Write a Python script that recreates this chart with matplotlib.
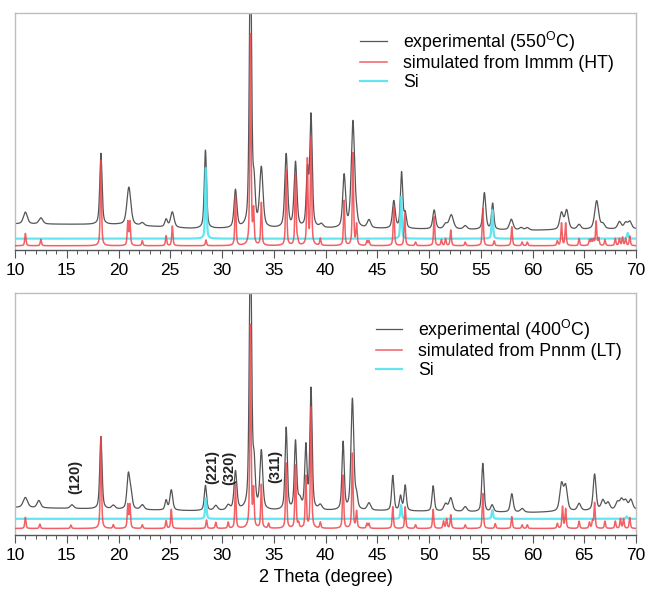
import numpy as np
import matplotlib
matplotlib.use("Agg")
import matplotlib.pyplot as plt

plt.rcParams['font.family'] = ['Liberation Sans', 'DejaVu Sans']
plt.rcParams['mathtext.fontset'] = 'custom'
plt.rcParams['mathtext.rm'] = 'Liberation Sans'

# ---- data (2theta in degrees, heights in arbitrary units) ----
# top panel: 550 C, Immm (HT)
exp_ht_pos = [11.0, 12.5, 18.3, 21.0, 22.3, 24.6, 25.2, 28.4, 31.3, 32.75, 33.1, 33.8,
              36.2, 37.1, 38.25, 38.6, 39.6, 41.8, 42.65, 43.0, 44.2, 46.6, 47.35, 47.7,
              50.5, 51.6, 52.15, 53.5, 55.35, 56.15, 57.95, 58.9, 59.5, 62.8, 63.3, 64.5,
              66.2, 66.8, 68.4, 69.0, 69.4]
exp_ht_h = [5.0, 2.6, 30.0, 16.0, 1.2, 3.2, 6.5, 33.0, 16.0, 120.0, 16.0, 25.0,
            31.0, 27.5, 23.0, 47.0, 1.5, 22.0, 45.0, 3.0, 3.4, 11.5, 23.5, 6.0,
            8.0, 2.0, 6.0, 1.5, 15.5, 11.0, 4.5, 1.0, 1.0, 7.0, 8.0, 2.0,
            12.0, 2.0, 3.0, 2.5, 3.0]
exp_ht_w = [0.45, 0.45, 0.26, 0.45, 0.4, 0.3, 0.4, 0.26, 0.32, 0.26, 0.26, 0.38,
            0.32, 0.32, 0.26, 0.28, 0.4, 0.32, 0.38, 0.26, 0.4, 0.32, 0.26, 0.26,
            0.32, 0.4, 0.5, 0.4, 0.32, 0.26, 0.4, 0.4, 0.4, 0.4, 0.4, 0.4,
            0.45, 0.4, 0.4, 0.4, 0.4]
exp_ht_base_x = [10, 20, 27, 45, 60, 70]
exp_ht_base_y = [11.0, 10.7, 9.0, 9.0, 8.3, 8.9]

sim_ht_pos = [11.0, 12.5, 18.3, 20.9, 21.1, 22.3, 24.6, 25.2, 28.45, 31.3, 32.75, 33.05,
              33.8, 36.2, 37.1, 37.3, 38.25, 38.6, 39.5, 41.8, 42.65, 43.0, 44.0, 44.2,
              46.6, 47.65, 48.7, 50.5, 51.2, 51.6, 52.1, 53.5, 55.2, 56.3, 58.0, 59.0,
              59.5, 62.4, 62.8, 63.2, 64.5, 65.5, 65.7, 65.9, 66.15, 66.4, 67.0, 68.0,
              68.4, 68.7, 69.0, 69.4]
sim_ht_h = [5.2, 2.7, 36.0, 10.0, 10.0, 2.1, 4.2, 8.3, 2.4, 20.7, 89.0, 14.0,
            18.0, 32.0, 29.8, 2.0, 36.0, 45.0, 3.0, 19.0, 39.0, 8.7, 2.0, 2.0,
            16.5, 13.8, 1.5, 12.2, 2.5, 3.0, 6.6, 1.5, 15.8, 2.0, 8.0, 1.5,
            1.5, 2.0, 9.5, 9.5, 3.0, 2.5, 2.5, 2.5, 10.2, 3.0, 2.5, 3.0,
            3.0, 3.5, 3.0, 4.0]
sim_ht_base = 1.8

si_ht_pos = [28.44, 47.3, 56.12, 69.2]
si_ht_h = [29.8, 17.7, 12.1, 2.4]
si_ht_base = 4.8

# bottom panel: 400 C, Pnnm (LT)
exp_lt_pos = [11.0, 12.3, 15.5, 18.3, 19.5, 20.95, 21.2, 22.3, 24.6, 25.1, 28.4, 29.4,
              30.6, 31.3, 32.75, 33.1, 33.8, 36.2, 37.1, 37.5, 38.1, 38.6, 39.5, 41.7,
              42.6, 43.0, 44.2, 46.5, 47.25, 47.7, 50.4, 51.6, 52.1, 53.5, 55.2, 56.1,
              58.0, 59.0, 62.8, 63.2, 64.5, 66.0, 66.8, 67.3, 68.2, 68.6, 69.0, 69.5]
exp_lt_h = [4.2, 3.0, 1.5, 30.0, 1.5, 14.0, 6.0, 2.0, 4.0, 8.4, 10.4, 2.0,
            2.0, 16.0, 120.0, 16.5, 24.0, 34.0, 28.0, 4.0, 26.0, 50.0, 2.0, 28.0,
            46.0, 5.0, 3.0, 14.5, 6.0, 10.5, 10.5, 3.0, 5.5, 2.0, 20.0, 2.8,
            7.6, 1.5, 11.0, 10.0, 3.0, 15.0, 4.0, 3.0, 3.0, 4.0, 3.5, 4.0]
exp_lt_w = [0.5, 0.4, 0.4, 0.26, 0.4, 0.32, 0.32, 0.4, 0.26, 0.32, 0.26, 0.4,
            0.4, 0.32, 0.26, 0.26, 0.32, 0.26, 0.26, 0.4, 0.26, 0.26, 0.4, 0.26,
            0.32, 0.26, 0.4, 0.26, 0.26, 0.26, 0.26, 0.4, 0.4, 0.4, 0.26, 0.32,
            0.32, 0.4, 0.4, 0.4, 0.4, 0.32, 0.4, 0.4, 0.4, 0.4, 0.4, 0.4]
exp_lt_base_x = [10, 15, 27, 45, 60, 70]
exp_lt_base_y = [11.4, 11.0, 10.0, 10.0, 9.3, 10.5]

sim_lt_pos = [11.0, 12.4, 15.4, 18.3, 19.5, 20.9, 21.1, 22.3, 24.6, 25.1, 28.5, 29.4,
              30.6, 31.3, 32.75, 33.05, 33.8, 34.5, 36.2, 37.1, 37.4, 38.1, 38.6, 39.5,
              41.7, 42.6, 43.0, 44.0, 44.2, 46.5, 47.7, 48.7, 50.4, 51.4, 51.7, 52.1,
              53.5, 55.2, 56.4, 58.0, 59.0, 59.5, 62.4, 62.9, 63.2, 64.5, 65.5, 65.8,
              66.0, 67.0, 68.0, 68.5, 68.8, 69.4]
sim_lt_h = [4.6, 1.8, 1.4, 37.9, 1.5, 9.7, 9.7, 1.5, 3.2, 7.9, 3.5, 2.5,
            2.5, 18.0, 84.0, 15.0, 18.0, 2.0, 27.0, 26.0, 2.0, 21.4, 50.0, 2.5,
            22.0, 31.0, 6.9, 2.0, 2.0, 9.0, 9.0, 1.5, 7.9, 3.0, 4.0, 5.6,
            1.5, 14.5, 2.0, 4.9, 1.5, 1.5, 2.0, 9.0, 8.0, 3.0, 2.5, 3.0,
            10.6, 3.0, 3.0, 4.0, 4.0, 4.5]
sim_lt_base = 2.7

si_lt_pos = [28.44, 47.3, 56.12, 69.1]
si_lt_h = [8.5, 5.7, 3.6, 1.0]
si_lt_base = 6.7

hkl_labels = ['(120)', '(221)', '(320)', '(311)']
hkl_x = [15.8, 29.1, 30.7, 35.15]
hkl_y = [24.0, 28.3, 27.7, 28.3]

legend_ht = ['experimental (550$^{\\mathrm{O}}$C)', 'simulated from Immm (HT)', 'Si']
legend_lt = ['experimental (400$^{\\mathrm{O}}$C)', 'simulated from Pnnm (LT)', 'Si']

EXP_C = '#555555'
SIM_C = '#f0444a'
SI_C = '#52e4ee'

tt = np.linspace(10, 70, 12001)


def profile(pos, h, w, eta=0.6):
    """pseudo-Voigt sum of a peak list on the 2theta grid"""
    y = np.zeros_like(tt)
    if np.isscalar(w):
        w = [w] * len(pos)
    for p, a, fw in zip(pos, h, w):
        d = (tt - p) / (fw / 2)
        y += a * (eta / (1 + d ** 2) + (1 - eta) * np.exp(-np.log(2) * d ** 2))
    return y


def draw_panel(ax, exp_pos, exp_h, exp_w, bx, by, sim_pos, sim_h, sim_base,
               si_pos, si_h, si_base, labels):
    exp_y = np.interp(tt, bx, by) + profile(exp_pos, exp_h, exp_w, eta=0.5)
    sim_y = sim_base + profile(sim_pos, sim_h, 0.14, eta=0.6)
    si_y = si_base + profile(si_pos, si_h, 0.16, eta=0.5)

    ax.plot(tt, exp_y, color=EXP_C, lw=0.9, label=labels[0], zorder=2)
    ax.plot(tt, sim_y, color=SIM_C, lw=1.1, alpha=0.85, label=labels[1], zorder=4)
    ax.plot(tt, si_y, color=SI_C, lw=1.6, alpha=0.9, label=labels[2], zorder=3)

    ax.set_xlim(10, 70)
    ax.set_ylim(0, 100)
    ax.set_yticks([])
    ax.set_xticks(np.arange(10, 71, 5))
    ax.set_xticks(np.arange(10, 71, 1), minor=True)
    ax.tick_params(axis='x', which='major', direction='out', length=6, width=0.8,
                   color='#555555', labelsize=12.5, pad=3)
    ax.tick_params(axis='x', which='minor', direction='out', length=3, width=0.7,
                   color='#555555')
    for s in ['top', 'left', 'right']:
        ax.spines[s].set_color('#bdbdbd')
        ax.spines[s].set_linewidth(1.0)
    ax.spines['bottom'].set_color('#555555')
    ax.spines['bottom'].set_linewidth(1.0)


fig = plt.figure(figsize=(6.47, 5.95), dpi=100)
ax1 = fig.add_axes([0.0232, 0.5798, 0.9598, 0.3984])
ax2 = fig.add_axes([0.0232, 0.1008, 0.9598, 0.4062])

draw_panel(ax1, exp_ht_pos, exp_ht_h, exp_ht_w, exp_ht_base_x, exp_ht_base_y,
           sim_ht_pos, sim_ht_h, sim_ht_base, si_ht_pos, si_ht_h, si_ht_base, legend_ht)
draw_panel(ax2, exp_lt_pos, exp_lt_h, exp_lt_w, exp_lt_base_x, exp_lt_base_y,
           sim_lt_pos, sim_lt_h, sim_lt_base, si_lt_pos, si_lt_h, si_lt_base, legend_lt)

for ax, anchor in [(ax1, (0.556, 0.93)), (ax2, (0.581, 0.9))]:
    ax.legend(loc='upper left', bbox_to_anchor=anchor, frameon=False, fontsize=12.8,
              handlelength=1.5, handletextpad=0.9, labelspacing=0.1,
              borderpad=0, borderaxespad=0)

for lab, x, y in zip(hkl_labels, hkl_x, hkl_y):
    ax2.text(x, y, lab, rotation=90, ha='center', va='center', fontsize=10.5,
             fontweight='bold', color='#222222')

ax2.set_xlabel('2 Theta (degree)', fontsize=13, labelpad=5)

fig.savefig('out.png', dpi=100)
